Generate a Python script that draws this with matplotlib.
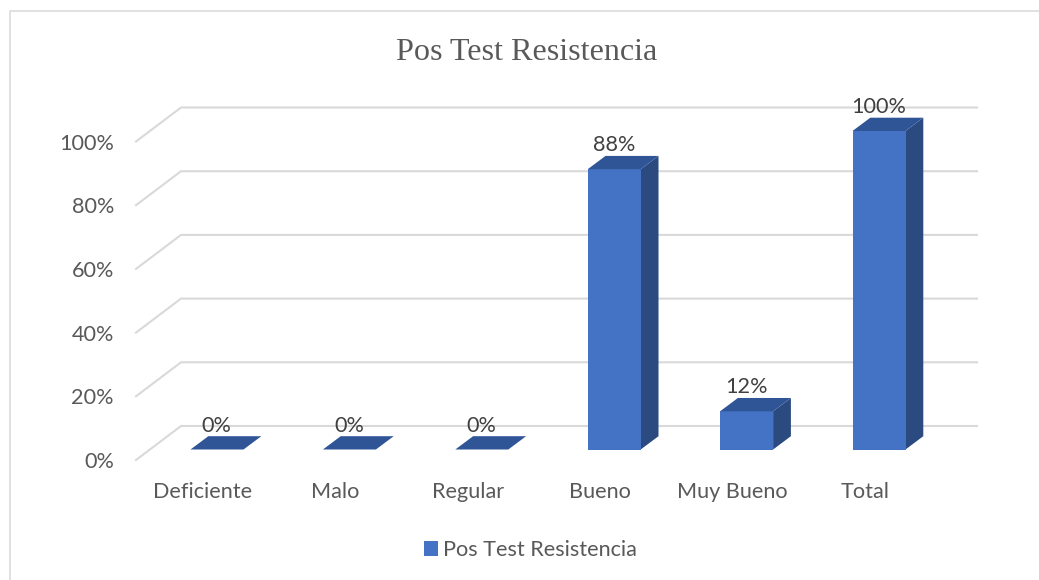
import matplotlib
matplotlib.use("Agg")
import matplotlib.pyplot as plt
from matplotlib.patches import Polygon
from matplotlib.lines import Line2D
from matplotlib.transforms import ScaledTranslation

categories = ["Deficiente", "Malo", "Regular", "Bueno", "Muy Bueno", "Total"]
values = [0, 0, 0, 88, 12, 100]
data_labels = ["0%", "0%", "0%", "88%", "12%", "100%"]
y_ticks = [0, 20, 40, 60, 80, 100]
y_tick_labels = ["0%", "20%", "40%", "60%", "80%", "100%"]
title = "Pos Test Resistencia"
series_name = "Pos Test Resistencia"

W, H = 1039, 580
FRONT = "#4472C4"
SIDE = "#2A4A80"
TOP = "#2F5597"
GRID = "#D9D9D9"
TEXT = "#595959"
SANS = "Lato"
FS = 15.6

fig = plt.figure(figsize=(W / 100, H / 100), dpi=100, facecolor="white")

# axes: the plane of the bars' front faces
L, R, T, B = 150, 946, 131, 449.5
ax = fig.add_axes([L / W, 1 - B / H, (R - L) / W, (B - T) / H])
px_x = 132.4
xmin = -(217 - L) / px_x
xmax = xmin + (R - L) / px_x
ax.set_xlim(xmin, xmax)
ax.set_ylim(0, 100)
px_y = (B - T) / 100
for s in ax.spines.values():
    s.set_visible(False)
ax.patch.set_visible(False)

# depth offsets, data units
bar_dx, bar_dy = 17.8 / px_x, 13.3 / px_y
wall_dx, wall_dy = 31 / px_x, 23.5 / px_y
floor_dx, floor_dy = -14 / px_x, -10.5 / px_y
width = 53 / px_x

for v in y_ticks:
    ax.add_line(Line2D([xmin + floor_dx, xmin + wall_dx, xmax + wall_dx],
                       [v + floor_dy, v + wall_dy, v + wall_dy],
                       color=GRID, lw=1.5, clip_on=False, zorder=1,
                       solid_joinstyle="miter"))

bars = ax.bar(range(len(values)), values, width=width, color=FRONT, zorder=3,
              label=series_name, clip_on=False)
for i, v in enumerate(values):
    x0, x1 = i - width / 2, i + width / 2
    ax.add_patch(Polygon([(x1, 0), (x1 + bar_dx, bar_dy), (x1 + bar_dx, v + bar_dy), (x1, v)],
                         closed=True, fc=SIDE, ec="none", zorder=2.5, clip_on=False))
    ax.add_patch(Polygon([(x0, v), (x1, v), (x1 + bar_dx, v + bar_dy), (x0 + bar_dx, v + bar_dy)],
                         closed=True, fc=TOP, ec="none", zorder=3.5, clip_on=False))
    ax.annotate(data_labels[i], (i, v), xytext=(-0.5 * 0.72, 24 * 0.72), textcoords="offset points",
                ha="center", va="center", fontsize=FS, family=SANS, color="#404040", zorder=5)

ax.set_xticks(range(len(categories)), categories)
ax.set_yticks(y_ticks, y_tick_labels)
ax.tick_params(length=0, labelsize=FS, labelcolor=TEXT, pad=0)
dpi = fig.dpi
for lab in ax.get_xticklabels():
    lab.set_family(SANS)
    lab.set_transform(lab.get_transform() + ScaledTranslation(-14 / dpi, -33 / dpi, fig.dpi_scale_trans))
for lab in ax.get_yticklabels():
    lab.set_family(SANS)
    lab.set_transform(lab.get_transform() + ScaledTranslation(-36 / dpi, -10.5 / dpi, fig.dpi_scale_trans))

fig.text(526.5 / W, 1 - 53 / H, title, ha="center", va="center", fontsize=23.1,
         family="Liberation Serif", color=TEXT)

fig.legend(handles=[bars], labels=[series_name], loc="center left",
           bbox_to_anchor=(424 / W, 1 - 550 / H), frameon=False, handlelength=0.64, handleheight=0.64,
           handletextpad=0.24, borderpad=0, borderaxespad=0,
           prop={"family": SANS, "size": FS}, labelcolor=TEXT)

# chart frame
fig.add_artist(Line2D([10 / W, 10 / W, 1], [0, 1 - 10.5 / H, 1 - 10.5 / H],
                      transform=fig.transFigure, color=GRID, lw=1.1))

fig.savefig("out.png", dpi=100)
